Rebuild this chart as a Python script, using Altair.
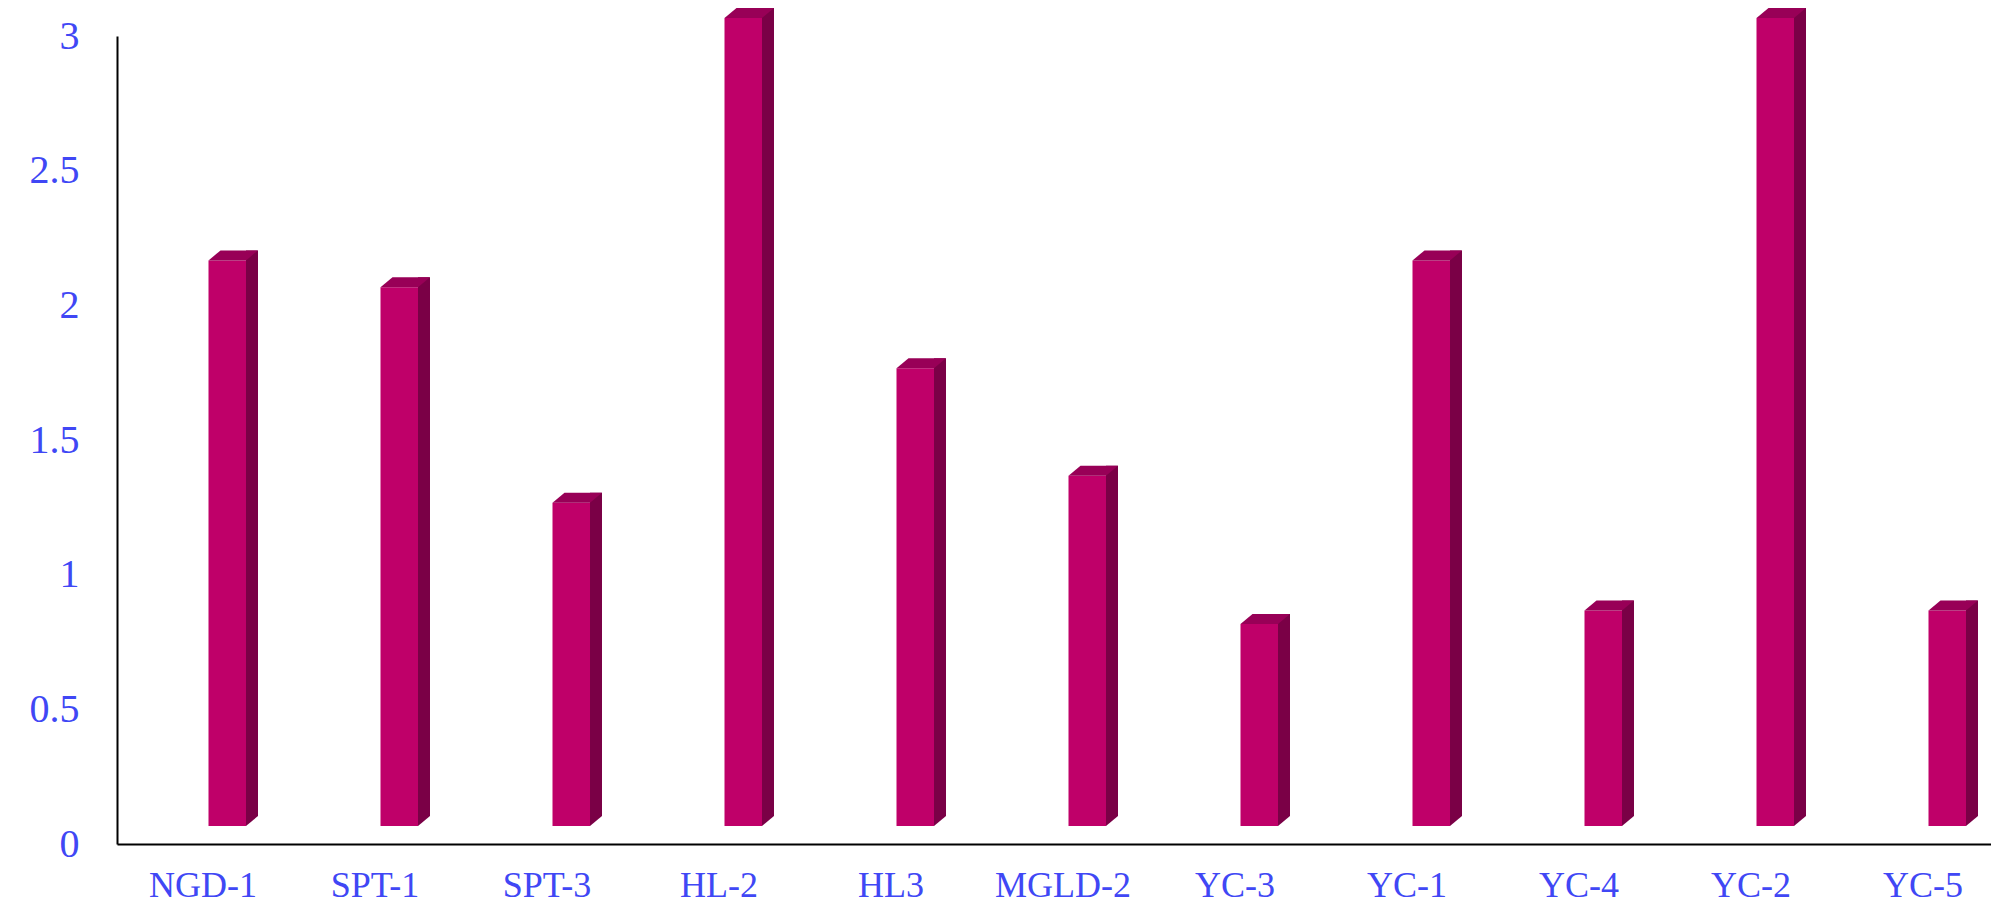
import altair as alt
import pandas as pd

categories = ["NGD-1", "SPT-1", "SPT-3", "HL-2", "HL3", "MGLD-2",
              "YC-3", "YC-1", "YC-4", "YC-2", "YC-5"]
values = [2.1, 2.0, 1.2, 3.0, 1.7, 1.3, 0.75, 2.1, 0.8, 3.0, 0.8]
y_ticks = [0, 0.5, 1, 1.5, 2, 2.5, 3]

FRONT = "#BF0069"
TOP = "#980057"
SIDE = "#7A0046"
LABEL = "#4047F5"
FONT = "Liberation Serif"

df = pd.DataFrame({"sample": categories, "value": values})

x = alt.X(
    "sample:N", sort=categories,
    scale=alt.Scale(range=[0, 1892], paddingInner=0, paddingOuter=0),
    axis=alt.Axis(title=None, labelAngle=0, labelFontSize=36, labelPadding=24,
                  ticks=False, tickSize=0, domainColor="black", domainWidth=2,
                  labelColor=LABEL, labelFont=FONT, labelOverlap=False,
                  labelBaseline="top", labelBound=False),
)
y = alt.Y(
    "value:Q",
    scale=alt.Scale(domain=[0, 3], nice=False),
    axis=alt.Axis(title=None, values=y_ticks, format="~g", grid=False,
                  ticks=False, tickSize=0, labelFontSize=40, labelPadding=38,
                  domainColor="black", domainWidth=2, labelColor=LABEL,
                  labelFont=FONT, labelBound=False),
)

base = alt.Chart(df)

side = base.mark_bar(width=12, xOffset=49, yOffset=-28, y2Offset=-28,
                     color=SIDE).encode(x=x, y=y)
side_bottom = base.mark_point(shape="M43,-18L43,-28L55,-28Z", size=4, filled=True,
                              color=SIDE, opacity=1, strokeWidth=0).encode(
    x=x, y=alt.Y(datum=0))
front = base.mark_bar(width=37.5, xOffset=24.25, yOffset=-18, y2Offset=-18,
                      color=FRONT).encode(x=x, y=y)
top = base.mark_point(shape="M5.5,-18L17.5,-28L55,-28L43,-18Z", size=4, filled=True,
                      color=TOP, opacity=1, strokeWidth=0).encode(x=x, y=y)

chart = alt.layer(side, side_bottom, front, top).properties(
    width=1874, height=808,
    autosize="none",
    padding={"left": 109, "top": 28, "right": 0, "bottom": 70},
).configure_view(stroke=None)

chart.save("out.html", embed_options={"renderer": "svg", "actions": False})
